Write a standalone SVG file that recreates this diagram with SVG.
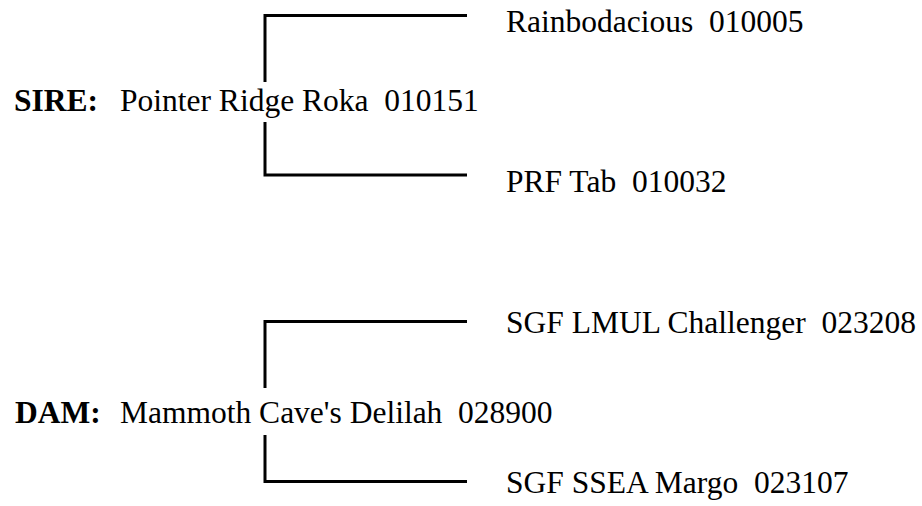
<svg xmlns="http://www.w3.org/2000/svg" width="922" height="506" viewBox="0 0 922 506">
<style>
text { font-family: "Liberation Serif", "Times New Roman", serif; font-size: 31.5px; fill: #000; white-space: pre; }
.b { font-weight: bold; }
.ln { fill: none; stroke: #000; stroke-width: 3; stroke-linecap: butt; stroke-linejoin: miter; }
</style>
<rect width="922" height="506" fill="#fff"/>
<g id="connectors">
<polyline class="ln" points="265,82 265,15.5 467,15.5"/>
<polyline class="ln" points="265,122 265,175 467,175"/>
<polyline class="ln" points="265,388 265,321.5 467,321.5"/>
<polyline class="ln" points="265,435 265,481.5 467,481.5"/>
</g>
<g id="sire">
<text class="b" x="14" y="111">SIRE:</text>
<text x="120" y="111">Pointer Ridge Roka  010151</text>
</g>
<g id="sire-sire">
<text x="506" y="32">Rainbodacious  010005</text>
</g>
<g id="sire-dam">
<text x="506" y="192">PRF Tab  010032</text>
</g>
<g id="dam">
<text class="b" x="15" y="423">DAM:</text>
<text x="120" y="423">Mammoth Cave's Delilah  028900</text>
</g>
<g id="dam-sire">
<text x="506" y="333">SGF LMUL Challenger  023208</text>
</g>
<g id="dam-dam">
<text x="506" y="493">SGF SSEA Margo  023107</text>
</g>
</svg>
